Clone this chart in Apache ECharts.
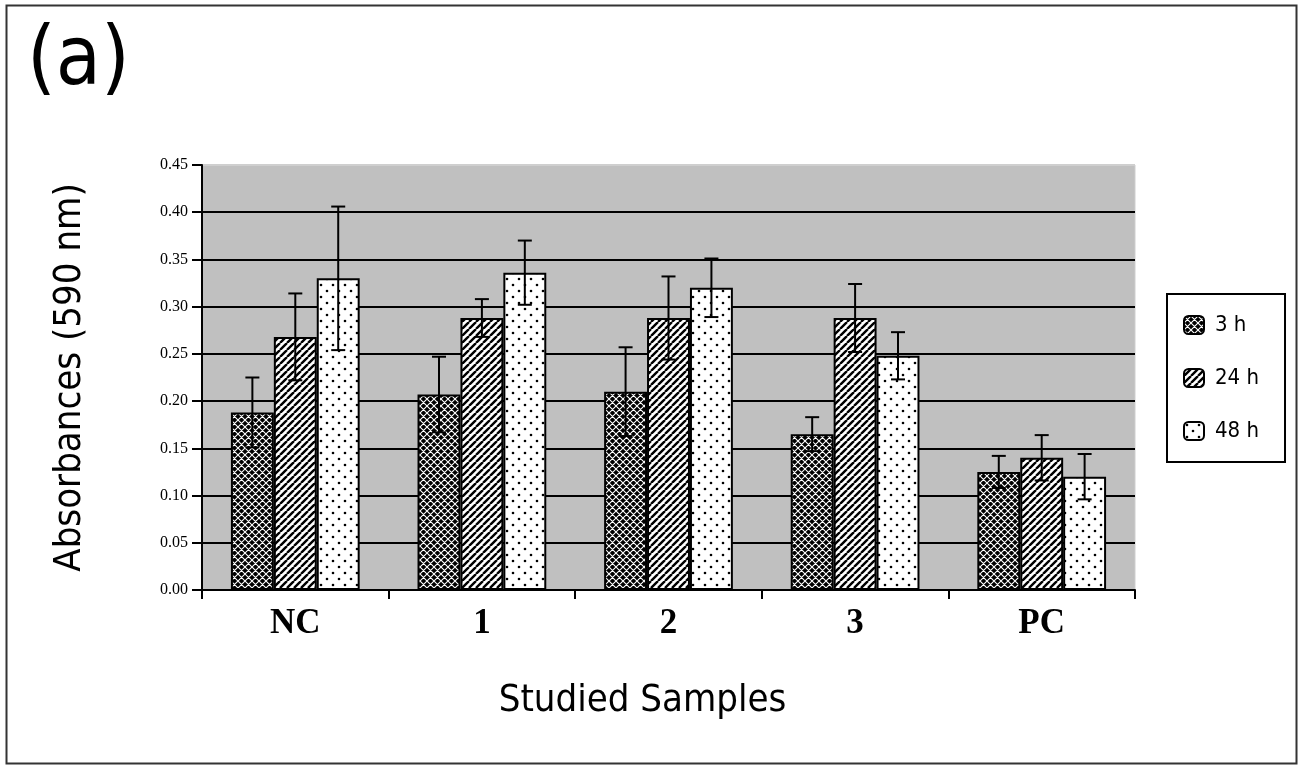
<!DOCTYPE html>
<html>
<head>
<meta charset="utf-8">
<script src="https://cdn.jsdelivr.net/npm/echarts@6/dist/echarts.min.js"></script>
<style>html,body{margin:0;padding:0;background:#fff;}#c{width:1300px;height:768px;}</style>
</head>
<body>
<div id="c"></div>
<script>
var categories = ['NC', '1', '2', '3', 'PC'];
var seriesNames = ['3 h', '24 h', '48 h'];
var mean3h  = [0.188, 0.207, 0.210, 0.165, 0.125];
var mean24h = [0.268, 0.288, 0.288, 0.288, 0.140];
var mean48h = [0.330, 0.336, 0.320, 0.248, 0.120];
var err3h  = [0.037, 0.040, 0.047, 0.018, 0.017];
var err24h = [0.046, 0.020, 0.044, 0.036, 0.024];
var err48h = [0.076, 0.034, 0.031, 0.025, 0.024];
var yTicks = ['0.00','0.05','0.10','0.15','0.20','0.25','0.30','0.35','0.40','0.45'];

function makeCanvas(w, h, draw) {
  var c = document.createElement('canvas');
  c.width = w; c.height = h;
  draw(c.getContext('2d'), w, h);
  return c;
}
var crossTile = makeCanvas(7, 7, function (g, w, h) {
  g.fillStyle = '#000'; g.fillRect(0, 0, w, h);
  g.strokeStyle = '#fff'; g.lineWidth = 1.1;
  g.beginPath();
  for (var k = -1; k <= 1; k++) {
    g.moveTo(k * w, 0); g.lineTo(k * w + w, h);
    g.moveTo(k * w + w, 0); g.lineTo(k * w, h);
  }
  g.stroke();
});
var stripeTile = makeCanvas(7, 7, function (g, w, h) {
  g.fillStyle = '#fff'; g.fillRect(0, 0, w, h);
  g.strokeStyle = '#000'; g.lineWidth = 2.4;
  g.beginPath();
  for (var k = -1; k <= 1; k++) {
    g.moveTo(k * w, h); g.lineTo(k * w + w, 0);
  }
  g.stroke();
});
var dotTile = makeCanvas(12, 12, function (g, w, h) {
  g.fillStyle = '#fff'; g.fillRect(0, 0, w, h);
  g.fillStyle = '#000';
  g.beginPath(); g.arc(3, 3, 1.3, 0, Math.PI * 2); g.fill();
  g.beginPath(); g.arc(9, 9, 1.3, 0, Math.PI * 2); g.fill();
});
var fills = [
  { image: crossTile, repeat: 'repeat' },
  { image: stripeTile, repeat: 'repeat' },
  { image: dotTile, repeat: 'repeat' }
];
var means = [mean3h, mean24h, mean48h];
var errs = [err3h, err24h, err48h];
var catGap = 0.31;

var series = [];
for (var s = 0; s < 3; s++) {
  series.push({
    name: seriesNames[s], type: 'bar', data: means[s],
    barGap: '0%', barCategoryGap: (catGap * 100) + '%',
    itemStyle: { color: fills[s], borderColor: '#000', borderWidth: 2 },
    emphasis: { disabled: true }, z: 2
  });
}
for (var s2 = 0; s2 < 3; s2++) {
  (function (si) {
    series.push({
      name: 'err' + si, type: 'custom', z: 5, silent: true,
      data: means[si].map(function (v, i) { return [i, v, errs[si][i]]; }),
      encode: { x: 0, y: 1 },
      renderItem: function (params, api) {
        var i = api.value(0), v = api.value(1), e = api.value(2);
        var band = api.size([1, 0])[0];
        var bw = band * (1 - catGap) / 3;
        var hi = api.coord([i, v + e]);
        var lo = api.coord([i, v - e]);
        var x = hi[0] + (si - 1) * bw;
        var cap = 7;
        var st = { stroke: '#000', lineWidth: 2 };
        return {
          type: 'group', children: [
            { type: 'line', shape: { x1: x, y1: hi[1], x2: x, y2: lo[1] }, style: st },
            { type: 'line', shape: { x1: x - cap, y1: hi[1], x2: x + cap, y2: hi[1] }, style: st },
            { type: 'line', shape: { x1: x - cap, y1: lo[1], x2: x + cap, y2: lo[1] }, style: st }
          ]
        };
      }
    });
  })(s2);
}

var splitColors = yTicks.map(function (t, i) { return i === yTicks.length - 1 ? '#cfcfcf' : '#000'; });
var narrow = "'DejaVu Sans Condensed', 'Liberation Sans Narrow', 'Liberation Sans', sans-serif";
var serif = "'Liberation Serif', 'Times New Roman', serif";

var chart = echarts.init(document.getElementById('c'));
chart.setOption({
  animation: false,
  backgroundColor: '#fff',
  title: {
    text: '(a)', left: 22, top: 17,
    textStyle: { fontFamily: narrow, fontSize: 82, fontWeight: 'normal', color: '#000' }
  },
  graphic: [{
    type: 'rect', left: 4, top: 3, shape: { width: 1290, height: 758 },
    style: { fill: 'none', stroke: '#333', lineWidth: 2 }, silent: true, z: -1
  }],
  legend: {
    data: seriesNames, orient: 'vertical', left: 1167, top: 294,
    padding: [20, 26, 20, 16], itemGap: 31, itemWidth: 20, itemHeight: 18,
    borderColor: '#000', borderWidth: 2, backgroundColor: '#fff',
    selectedMode: false,
    textStyle: { fontFamily: narrow, fontSize: 22, color: '#000', padding: [0, 0, 0, 6] }
  },
  grid: {
    left: 202, right: 165, top: 165, bottom: 178,
    show: true, backgroundColor: '#c0c0c0', borderColor: '#cfcfcf', borderWidth: 1
  },
  xAxis: {
    type: 'category', data: categories,
    name: 'Studied Samples', nameLocation: 'middle', nameGap: 92,
    nameTextStyle: { fontFamily: narrow, fontSize: 38, color: '#000', padding: [0, 52, 0, 0] },
    axisLine: { lineStyle: { color: '#000', width: 2 } },
    axisTick: { show: true, length: 9, lineStyle: { color: '#000', width: 2 } },
    axisLabel: { fontFamily: serif, fontSize: 35, fontWeight: 'bold', color: '#000', margin: 16 }
  },
  yAxis: {
    type: 'value', min: 0, max: 0.45, interval: 0.05,
    name: 'Absorbances (590 nm)', nameLocation: 'middle', nameGap: 113, nameRotate: 90,
    nameTextStyle: { fontFamily: narrow, fontSize: 38, color: '#000' },
    axisLine: { show: true, lineStyle: { color: '#000', width: 2 } },
    axisTick: { show: true, length: 10, lineStyle: { color: '#000', width: 2 } },
    axisLabel: {
      fontFamily: serif, fontSize: 16, color: '#000', margin: 14,
      formatter: function (v) { return yTicks[Math.round(v / 0.05)]; }
    },
    splitLine: { show: true, lineStyle: { color: splitColors, width: 2 } }
  },
  series: series
});
</script>
</body>
</html>
